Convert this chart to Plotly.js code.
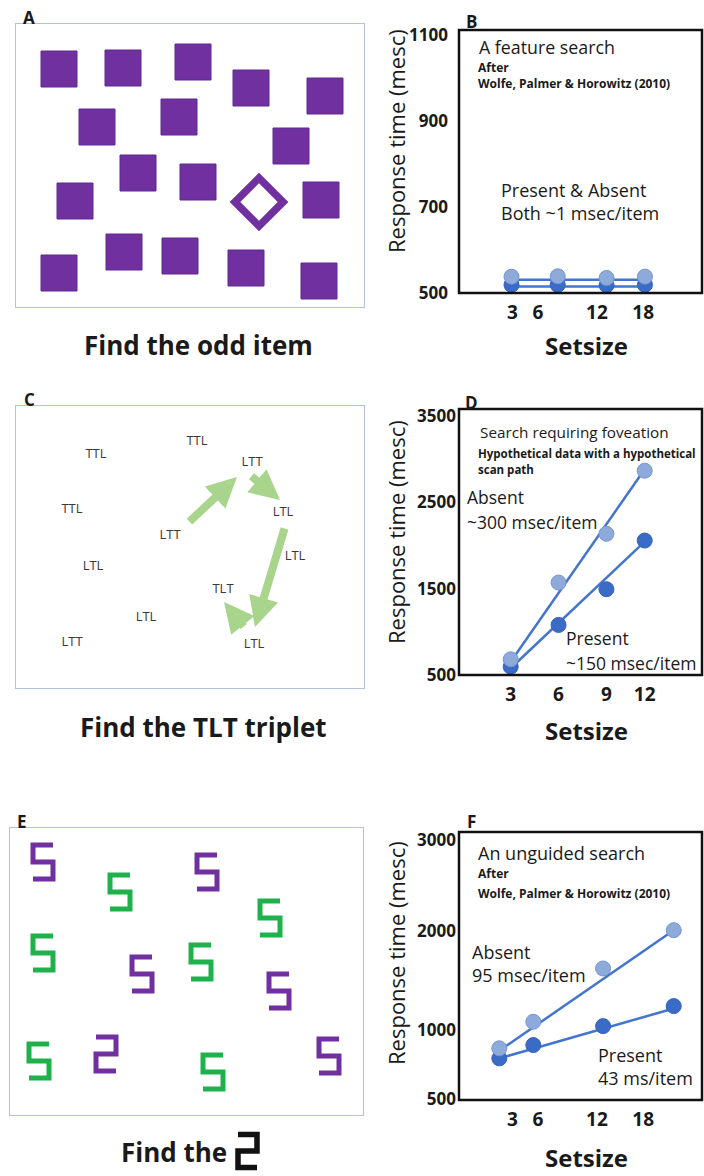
<!DOCTYPE html>
<html><head><meta charset="utf-8">
<script src="https://cdn.plot.ly/plotly-3.0.1.min.js"></script>
<style>html,body{margin:0;padding:0;background:#fff}#chart{width:704px;height:1176px}</style>
</head><body><div id="chart"></div>
<script>
// ---------- Panel A: feature search display ----------
const squareX = [59, 123, 193, 251, 325, 97, 179, 291, 138, 198, 75, 321, 124, 180, 246, 59, 319];
const squareY = [69, 68, 62, 88, 96, 127, 117, 146, 173, 182, 201, 200, 252, 256, 268, 273, 281];
const oddDiamondX = [259];
const oddDiamondY = [202];

// ---------- Panel B: feature search RTs ----------
const tickPosB = [3, 5.94, 12.7, 18];
const tickTextB = ['3', '6', '12', '18'];
const yTicksB = [500, 700, 900, 1100];
const xB = [2.9, 8.2, 13.8, 18.2];
const absentB = [538, 539, 535, 538];
const presentB = [519, 519, 518, 519];
const fitXB = [2.9, 18.2];
const absentFitB = [531, 531];
const presentFitB = [515, 515];

// ---------- Panel C: TLT triplet display ----------
const tripletText = ['TTL', 'TTL', 'LTT', 'TTL', 'LTL', 'LTT', 'LTL', 'LTL', 'TLT', 'LTL', 'LTT', 'LTL'];
const tripletX = [96, 197, 252, 72, 283, 170, 295, 93, 223, 146, 72, 254];
const tripletY = [455, 442, 463, 510, 513, 536, 557, 567, 590, 618, 643, 645];
const scanTailX = [188, 250, 285, 245];
const scanTailY = [523, 475, 527, 628];
const scanTipX = [237, 280, 255, 224];
const scanTipY = [477, 500, 627, 602];

// ---------- Panel D: foveation search RTs ----------
const tickPosD = [3, 6, 9, 11.4];
const tickTextD = ['3', '6', '9', '12'];
const yTicksD = [500, 1500, 2500, 3500];
const xD = [3, 6, 9, 11.4];
const absentD = [682, 1571, 2136, 2867];
const presentD = [596, 1080, 1494, 2058];
const fitXD = [3, 11.3];
const absentFitD = [654, 2858];
const presentFitD = [578, 2028];

// ---------- Panel E: unguided search display ----------
const purpleSX = [43, 207, 142, 279, 329];
const purpleSY = [862, 872, 974, 991, 1056];
const greenSX = [120, 270, 43, 201, 39, 213];
const greenSY = [892, 918, 953, 962, 1061, 1072];
const oddZX = [106];
const oddZY = [1054];

// ---------- Panel F: unguided search RTs ----------
const tickPosF = [3, 5.94, 12.7, 18];
const tickTextF = ['3', '6', '12', '18'];
const yTickPosF = [300, 1000, 2000, 2913];
const yTickTextF = ['500', '1000', '2000', '3000'];
const xF = [1.5, 5.4, 13.4, 21.5];
const absentF = [816, 1084, 1621, 2007];
const presentF = [715, 849, 1040, 1242];
const fitXF = [1.5, 21.5];
const absentFitF = [792, 2007];
const presentFitF = [715, 1218];

// ---------- styling ----------
const W = 704, H = 1176;
const FONT = '"Open Sans", Lato, sans-serif';
const PURPLE = '#7030a0', GREEN = '#1fb14c';
const LIGHT = '#8eaadb', DARK = '#3a6bc6', LINE = '#4475cc';
const px = (a, b) => [a / W, b / W];
const py = (top, bottom) => [1 - bottom / H, 1 - top / H];

// glyph templates (unit half-size, y down)
const S_SHAPE = [[1, -1], [-1, -1], [-1, 0], [1, 0], [1, 1], [-1, 1]];
const Z_SHAPE = [[-1, -1], [1, -1], [1, 0], [-1, 0], [-1, 1], [1, 1]];
function glyphs(cx, cy, shape, hw, hh) {
  const xs = [], ys = [];
  cx.forEach((x0, i) => {
    shape.forEach(p => { xs.push(x0 + p[0] * hw); ys.push(cy[i] + p[1] * hh); });
    xs.push(null); ys.push(null);
  });
  return {xs, ys};
}

const traces = [];
// A
traces.push({type: 'scatter', mode: 'markers', x: squareX, y: squareY, xaxis: 'x', yaxis: 'y', hoverinfo: 'skip',
  marker: {symbol: 'square', size: 36, color: PURPLE, line: {color: '#5c2990', width: 1}}});
traces.push({type: 'scatter', mode: 'markers', x: oddDiamondX, y: oddDiamondY, xaxis: 'x', yaxis: 'y', hoverinfo: 'skip',
  marker: {symbol: 'diamond-open', size: 37, color: PURPLE, line: {color: PURPLE, width: 7.5}}});
// C
traces.push({type: 'scatter', mode: 'text', x: tripletX, y: tripletY, text: tripletText, xaxis: 'x3', yaxis: 'y3',
  hoverinfo: 'skip', textfont: {family: FONT, size: 13, color: '#3a3a3a'}});
// E
const gP = glyphs(purpleSX, purpleSY, S_SHAPE, 10, 17);
const gG = glyphs(greenSX, greenSY, S_SHAPE, 10, 17);
const gZ = glyphs(oddZX, oddZY, Z_SHAPE, 10, 17);
traces.push({type: 'scatter', mode: 'lines', x: gP.xs, y: gP.ys, xaxis: 'x5', yaxis: 'y5', hoverinfo: 'skip',
  line: {color: PURPLE, width: 5}});
traces.push({type: 'scatter', mode: 'lines', x: gZ.xs, y: gZ.ys, xaxis: 'x5', yaxis: 'y5', hoverinfo: 'skip',
  line: {color: PURPLE, width: 5}});
traces.push({type: 'scatter', mode: 'lines', x: gG.xs, y: gG.ys, xaxis: 'x5', yaxis: 'y5', hoverinfo: 'skip',
  line: {color: GREEN, width: 5}});

// RT panels
function rtPanel(xa, ya, fx, aFit, pFit, xs, absent, present) {
  traces.push({type: 'scatter', mode: 'lines', x: fx, y: aFit, xaxis: xa, yaxis: ya, line: {color: LINE, width: 2.5}, hoverinfo: 'skip'});
  traces.push({type: 'scatter', mode: 'lines', x: fx, y: pFit, xaxis: xa, yaxis: ya, line: {color: LINE, width: 2.5}, hoverinfo: 'skip'});
  traces.push({type: 'scatter', mode: 'markers', x: xs, y: present, xaxis: xa, yaxis: ya, cliponaxis: false,
    marker: {size: 15, color: DARK, line: {color: '#3563bb', width: 1}}, hoverinfo: 'skip'});
  traces.push({type: 'scatter', mode: 'markers', x: xs, y: absent, xaxis: xa, yaxis: ya, cliponaxis: false,
    marker: {size: 15, color: LIGHT, line: {color: '#7696d0', width: 1}}, hoverinfo: 'skip'});
}
rtPanel('x2', 'y2', fitXB, absentFitB, presentFitB, xB, absentB, presentB);
rtPanel('x4', 'y4', fitXD, absentFitD, presentFitD, xD, absentD, presentD);
rtPanel('x6', 'y6', fitXF, absentFitF, presentFitF, xF, absentF, presentF);

// axes
function stimAxis(dom, range, anchor) {
  return {domain: dom, range: range, anchor: anchor, showgrid: false, zeroline: false, showticklabels: false, ticks: '',
    showline: true, mirror: true, linecolor: '#b3c1e0', linewidth: 1.3, fixedrange: true};
}
function rtX(dom, range, tv, tt, anchor) {
  return {domain: dom, range: range, anchor: anchor, tickmode: 'array', tickvals: tv, ticktext: tt, ticks: '', showgrid: false,
    zeroline: false, showline: false, ticklabelstandoff: 6,
    tickfont: {family: FONT, size: 19, color: '#1a1a1a', weight: 'bold'}, fixedrange: true};
}
function rtY(dom, range, tv, tt, standoff, anchor) {
  return {domain: dom, range: range, anchor: anchor, tickmode: 'array', tickvals: tv, ticktext: tt, ticks: '', showgrid: false,
    zeroline: false, showline: false, ticklabelstandoff: standoff,
    tickfont: {family: FONT, size: 17, color: '#1a1a1a', weight: 'bold'}, fixedrange: true};
}

const layout = {
  width: W, height: H, margin: {l: 0, r: 0, t: 0, b: 0}, paper_bgcolor: '#fff', plot_bgcolor: 'rgba(0,0,0,0)',
  showlegend: false, font: {family: FONT},
  xaxis: stimAxis(px(16, 364), [16, 364], 'y'),
  yaxis: stimAxis(py(24, 307), [307, 24], 'x'),
  xaxis3: stimAxis(px(16, 364), [16, 364], 'y3'),
  yaxis3: stimAxis(py(406, 688), [688, 406], 'x3'),
  xaxis5: stimAxis(px(10, 363), [10, 363], 'y5'),
  yaxis5: stimAxis(py(828, 1115), [1115, 828], 'x5'),
  xaxis2: rtX(px(459, 702), [-3.12, 24.74], tickPosB, tickTextB, 'y2'),
  yaxis2: rtY(py(30, 293), [500, 1112], yTicksB, yTicksB.map(String), 10, 'x2'),
  xaxis4: rtX(px(459, 702), [-0.24, 14.99], tickPosD, tickTextD, 'y4'),
  yaxis4: rtY(py(409, 675), [500, 3582], yTicksD, yTicksD.map(String), 2, 'x4'),
  xaxis6: rtX(px(459, 702), [-3.12, 24.74], tickPosF, tickTextF, 'y6'),
  yaxis6: rtY(py(832, 1100), [295, 2997], yTickPosF, yTickTextF, 2, 'x6'),
  annotations: [], shapes: []
};

// black frames of the RT panels
[['x2', 'y2'], ['x4', 'y4'], ['x6', 'y6']].forEach(a => layout.shapes.push({type: 'rect',
  xref: a[0] + ' domain', yref: a[1] + ' domain', x0: 0, x1: 1, y0: 0, y1: 1, line: {color: '#111', width: 2.5}}));

function ann(text, x, y, size, extra) {
  layout.annotations.push(Object.assign({text: text, x: x / W, y: 1 - y / H, xref: 'paper', yref: 'paper',
    showarrow: false, xanchor: 'left', yanchor: 'middle', font: {family: FONT, size: size, color: '#1a1a1a'}}, extra || {}));
}
// panel letters
[['A', 29, 17], ['B', 471, 21], ['C', 29, 400], ['D', 471, 402], ['E', 22, 821], ['F', 471, 821]].forEach(l =>
  ann('<b>' + l[0] + '</b>', l[1], l[2], 17, {xanchor: 'center'}));
// captions
ann('<b>Find the odd item</b>', 198, 345, 26, {xanchor: 'center'});
ann('<b>Find the TLT triplet</b>', 203, 727, 26, {xanchor: 'center'});
ann('<b>Find the</b>', 229, 1152, 26, {xanchor: 'right'});
// axis titles
[141, 532, 953].forEach(yc => ann('Response time (mesc)', 396, yc, 22, {xanchor: 'center', textangle: -90}));
[345, 730, 1157].forEach(yc => ann('<b>Setsize</b>', 586, yc, 24, {xanchor: 'center'}));
// B texts
ann('A feature search', 477, 47, 17.8);
ann('<b>After</b>', 476, 67, 12);
ann('<b>Wolfe, Palmer &amp; Horowitz (2010)</b>', 476, 84, 12);
ann('Present &amp; Absent', 499, 190, 18);
ann('Both ~1 msec/item', 499, 213, 18);
// D texts
ann('Search requiring foveation', 478, 432, 15.3);
ann('<b>Hypothetical data with a hypothetical</b>', 476, 454, 11.5);
ann('<b>scan path</b>', 476, 470, 11.5);
ann('Absent', 465, 497, 17.5);
ann('~300 msec/item', 465, 522, 17.5);
ann('Present', 564, 638, 17.5);
ann('~150 msec/item', 564, 663, 17.5);
// F texts
ann('An unguided search', 476, 853, 18);
ann('<b>After</b>', 476, 873, 12);
ann('<b>Wolfe, Palmer &amp; Horowitz (2010)</b>', 476, 893, 12);
ann('Absent', 470, 952, 18);
ann('95 msec/item', 470, 975, 18);
ann('Present', 596, 1055, 18);
ann('43 ms/item', 596, 1078, 18);

// scan path arrows (data coords of panel C)
scanTipX.forEach((x, i) => {
  layout.annotations.push({x: x, y: scanTipY[i], ax: scanTailX[i], ay: scanTailY[i], xref: 'x3', yref: 'y3',
    axref: 'x3', ayref: 'y3', text: '', showarrow: true, arrowhead: 2, arrowsize: 0.75, arrowwidth: 8,
    arrowcolor: '#a8d48c', standoff: 0});
});

// black target glyph in caption E (paper coords)
(function () {
  const cx = 247.5, cy = 1151, hw = 9.5, hh = 16.5;
  const d = Z_SHAPE.map((p, i) => (i ? 'L' : 'M') + ((cx + p[0] * hw) / W).toFixed(5) + ',' + (1 - (cy + p[1] * hh) / H).toFixed(5)).join(' ');
  layout.shapes.push({type: 'path', xref: 'paper', yref: 'paper', path: d, line: {color: '#111', width: 5.5}});
})();

Plotly.newPlot('chart', traces, layout, {displayModeBar: false, staticPlot: true});
</script></body></html>
